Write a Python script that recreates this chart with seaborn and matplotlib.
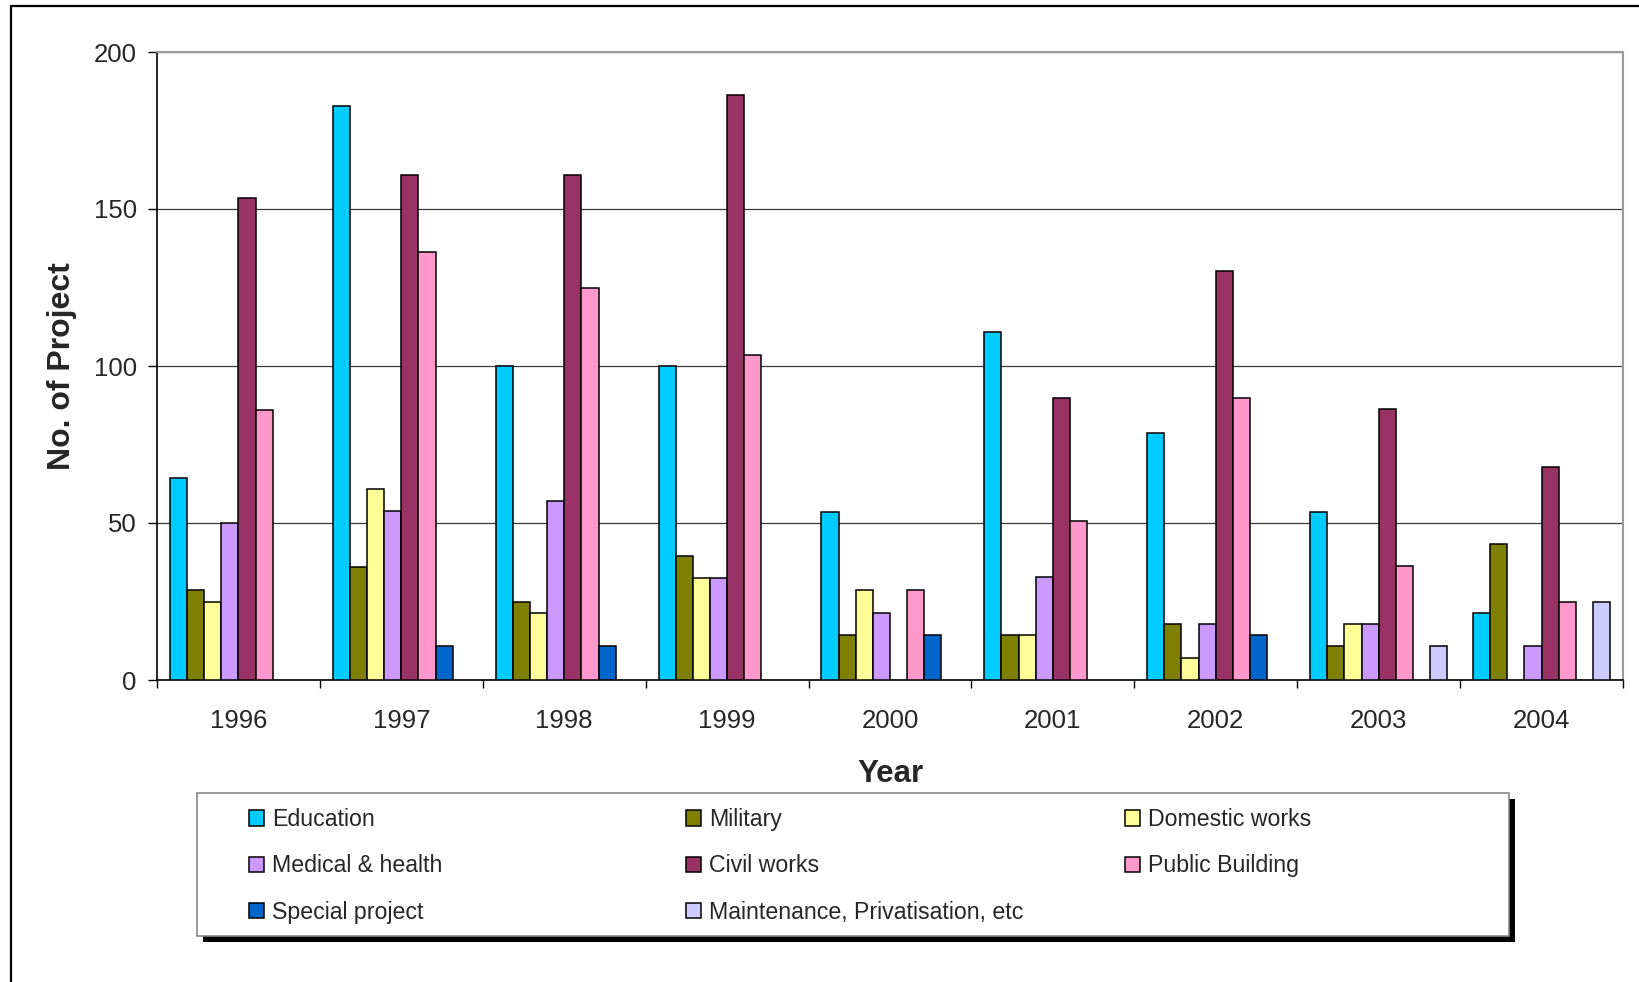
import matplotlib
matplotlib.use("Agg")
import matplotlib.pyplot as plt
from matplotlib.patches import Patch, Rectangle
from matplotlib.lines import Line2D
import seaborn as sns
import pandas as pd
import numpy as np

# =============================================================================
# DATA
# =============================================================================
years = ["1996", "1997", "1998", "1999", "2000", "2001", "2002", "2003", "2004"]
categories = ["Education", "Military", "Domestic works", "Medical & health",
              "Civil works", "Public Building", "Special project",
              "Maintenance, Privatisation, etc"]

nan = np.nan
education   = [64.3, 182.9, 100.0, 100.0, 53.6, 110.7, 78.6, 53.6, 21.4]
military    = [28.6, 35.9, 25.0, 39.6, 14.3, 14.3, 17.9, 10.7, 43.4]
domestic    = [25.0, 60.7, 21.2, 32.6, 28.6, 14.3, 7.1, 17.9, nan]
medical     = [50.0, 53.8, 57.1, 32.6, 21.4, 32.8, 17.9, 17.9, 10.7]
civil       = [153.6, 160.8, 160.8, 186.3, nan, 89.8, 130.1, 86.2, 67.8]
public      = [86.1, 136.3, 125.0, 103.5, 28.6, 50.7, 89.8, 36.2, 25.0]
special     = [nan, 10.7, 10.7, nan, 14.3, nan, 14.3, nan, nan]
maintenance = [nan, nan, nan, nan, nan, nan, nan, 10.7, 25.0]

colors = ["#00CCFF", "#808000", "#FFFF99", "#CC99FF",
          "#993366", "#FF99CC", "#0066CC", "#CCCCFF"]

series = [education, military, domestic, medical, civil, public, special, maintenance]
df = pd.DataFrame({
    "Year": np.repeat([years], len(categories), axis=0).ravel(),
    "Category": np.repeat(categories, len(years)),
    "Projects": np.concatenate(series),
})

# =============================================================================
# PLOTTING
# =============================================================================
sns.set_style("white")
plt.rcParams["font.family"] = ["Liberation Sans", "DejaVu Sans"]

W, H = 1640, 982
fig = plt.figure(figsize=(W / 100, H / 100), dpi=100)
ax = fig.add_axes([157 / W, 1 - 680 / H, (1623 - 157) / W, (680 - 52) / H])

sns.barplot(data=df, x="Year", y="Projects", hue="Category",
            hue_order=categories, order=years, palette=colors, saturation=1,
            width=8 / 9.5, edgecolor="black", linewidth=1.1,
            errorbar=None, legend=False, ax=ax, zorder=3)

ax.set_xlim(-0.5, len(years) - 0.5)
ax.set_ylim(0, 200)
ax.set_yticks([0, 50, 100, 150, 200])
ax.yaxis.grid(True, color="#3a3a3a", linewidth=0.9)
ax.set_axisbelow(True)

# x ticks: labels at group centres, tick marks on the group boundaries
ax.set_xticks(range(len(years)))
ax.set_xticklabels(years)
ax.set_xticks(np.arange(-0.5, len(years)), minor=True)
ax.tick_params(axis="x", which="major", length=0, pad=21, labelsize=18.5)
ax.tick_params(axis="x", which="minor", length=6, width=1, color="black",
               direction="out", bottom=True)
ax.tick_params(axis="y", length=6.5, width=1, color="black", direction="out",
               left=True, pad=8, labelsize=18.5)

for side in ["left", "bottom"]:
    ax.spines[side].set_color("black")
    ax.spines[side].set_linewidth(1.2)
for side in ["top", "right"]:
    ax.spines[side].set_color("#999999")
    ax.spines[side].set_linewidth(1.5)

ax.set_xlabel("Year", fontsize=22.5, fontweight="bold", labelpad=18.5)
ax.set_ylabel("No. of Project", fontsize=23, fontweight="bold", labelpad=12)

# legend box with a solid drop shadow
bx0, by0, bx1, by1 = 197, 793, 1509, 936
fig.add_artist(Rectangle(((bx0 + 6) / W, 1 - (by1 + 6) / H), (bx1 - bx0) / W,
                         (by1 - by0) / H, transform=fig.transFigure,
                         facecolor="black", edgecolor="none", zorder=1))
fig.add_artist(Rectangle((bx0 / W, 1 - by1 / H), (bx1 - bx0) / W, (by1 - by0) / H,
                         transform=fig.transFigure, facecolor="white",
                         edgecolor="#888888", linewidth=1.2, zorder=2))

handles = [Patch(facecolor=c, edgecolor="black", linewidth=1.1) for c in colors]
col_x = [249, 686, 1125]
for j, x in enumerate(col_x):
    idx = list(range(j, len(categories), 3))
    leg = fig.legend([handles[i] for i in idx], [categories[i] for i in idx],
                     loc="upper left", bbox_to_anchor=(x / W, 1 - 808 / H),
                     frameon=False, fontsize=16.7, borderpad=0, borderaxespad=0,
                     handlelength=0.64, handleheight=0.64, handletextpad=0.35,
                     labelspacing=1.01)
    leg.set_zorder(5)

# outer chart border (left and top)
fig.add_artist(Line2D([11 / W, 11 / W], [0, 1 - 6 / H], transform=fig.transFigure,
                      color="black", linewidth=1.6))
fig.add_artist(Line2D([11 / W, 1], [1 - 6 / H, 1 - 6 / H], transform=fig.transFigure,
                      color="black", linewidth=1.6))

fig.savefig("out.png", dpi=100)
